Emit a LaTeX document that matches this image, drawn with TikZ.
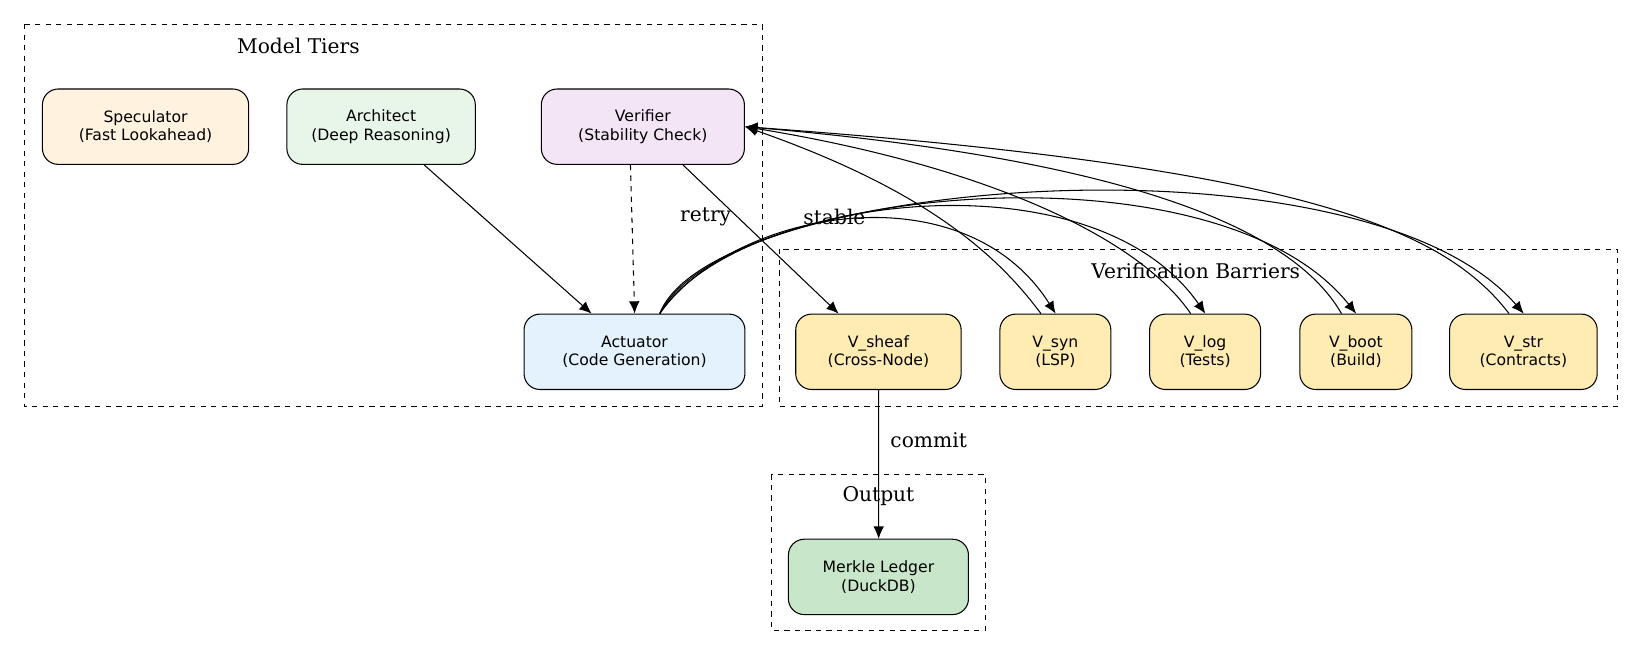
\documentclass[tikz,border=0pt]{standalone}
\usepackage{fontspec}
\newfontfamily\nodefont{DejaVu Sans}
\newfontfamily\labelfont{DejaVu Serif}
\usetikzlibrary{arrows.meta}
\definecolor{specfill}{HTML}{FFF3E0}
\definecolor{archfill}{HTML}{E8F5E9}
\definecolor{verfill}{HTML}{F3E5F5}
\definecolor{actfill}{HTML}{E3F2FD}
\definecolor{barfill}{HTML}{FFECB3}
\definecolor{ledfill}{HTML}{C8E6C9}
\begin{document}
\begin{tikzpicture}[x=0.02cm,y=-0.02cm,>={Latex[length=7pt,width=6pt]},semithick]
  \tikzstyle{every box}=[draw,rounded corners=9pt,minimum height=1.44cm,align=center,
                         font=\nodefont\fontsize{8.5}{10}\selectfont,inner sep=0pt]
  \tikzstyle{cluster}=[draw,dashed,thin]
  \tikzstyle{ctitle}=[font=\labelfont\fontsize{11}{13}\selectfont]
  \tikzstyle{elabel}=[font=\labelfont\fontsize{11}{13}\selectfont]

  \useasboundingbox (0,0) rectangle (1642,656);
  \begin{scope}[scale=1.047,transform shape]
  % clusters
  \draw[cluster] (23,23) rectangle (728,388);
  \node[ctitle] (tiers) at (285,44) {Model Tiers};
  \draw[cluster] (744,238) rectangle (1545,388);
  \node[ctitle] (barriers) at (1142,259) {Verification Barriers};
  \draw[cluster] (737,453) rectangle (941,602);
  \node[ctitle] (output) at (839,474) {Output};

  % model tiers
  \node[every box, fill=specfill, minimum width=3.94cm] (spec) at (139,121) {Speculator\\(Fast Lookahead)};
  \node[every box, fill=archfill, minimum width=3.6cm]  (arch) at (364,121) {Architect\\(Deep Reasoning)};
  \node[every box, fill=verfill,  minimum width=3.88cm] (ver)  at (614,121) {Verifier\\(Stability Check)};
  \node[every box, fill=actfill,  minimum width=4.22cm] (act)  at (606,336) {Actuator\\(Code Generation)};

  % barriers
  \node[every box, fill=barfill, minimum width=3.16cm] (vsheaf) at (839,336)  {V\_sheaf\\(Cross-Node)};
  \node[every box, fill=barfill, minimum width=2.12cm] (vsyn)   at (1008,336) {V\_syn\\(LSP)};
  \node[every box, fill=barfill, minimum width=2.12cm] (vlog)   at (1151,336) {V\_log\\(Tests)};
  \node[every box, fill=barfill, minimum width=2.14cm] (vboot)  at (1295,336) {V\_boot\\(Build)};
  \node[every box, fill=barfill, minimum width=2.82cm] (vstr)   at (1455,336) {V\_str\\(Contracts)};

  % output
  \node[every box, fill=ledfill, minimum width=3.44cm] (ledger) at (839,551) {Merkle Ledger\\(DuckDB)};

  \draw[->] (arch) -- (act);
  \draw[->,dashed] (ver.south) ++(-12,0) -- (act.north);
  \node[elabel] (lretry) at (674,207) {retry};
  \draw[->] (ver) -- (vsheaf);
  \node[elabel] (lstable) at (797,207) {stable};
  \draw[->] (vsheaf) -- (ledger);
  \node[elabel] (lcommit) at (887,420) {commit};

  % actuator to barriers
  \draw[->] (act.north) ++(24,0) .. controls (700,200) and (920,160) .. (vsyn.north);
  \draw[->] (act.north) ++(24,0) .. controls (700,190) and (1040,140) .. (vlog.north);
  \draw[->] (act.north) ++(24,0) .. controls (690,180) and (1160,130) .. (vboot.north);
  \draw[->] (act.north) ++(24,0) .. controls (680,170) and (1300,120) .. (vstr.north);

  % barriers back to verifier
  \draw[->] (vsyn.north) ++(-14,0) .. controls (950,240) and (880,180) .. (ver.east);
  \draw[->] (vlog.north) ++(-14,0) .. controls (1090,230) and (950,160) .. (ver.east);
  \draw[->] (vboot.north) ++(-14,0) .. controls (1230,210) and (1050,150) .. (ver.east);
  \draw[->] (vstr.north) ++(-14,0) .. controls (1380,220) and (1250,160) .. (ver.east);
  \end{scope}
\end{tikzpicture}
\end{document}
